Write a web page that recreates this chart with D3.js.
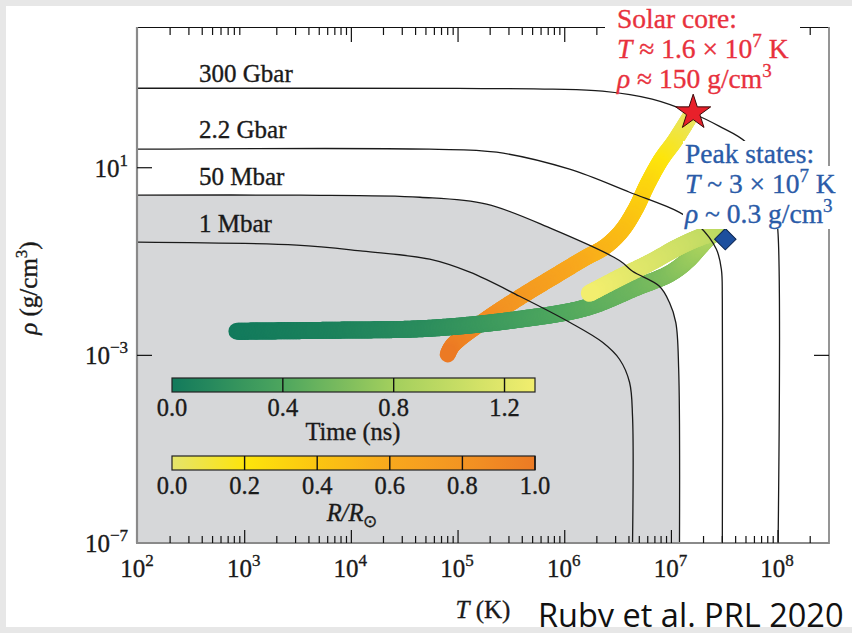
<!DOCTYPE html>
<html lang="en">
<head>
<meta charset="utf-8">
<title>Solar core vs peak states</title>
<script src="https://cdn.jsdelivr.net/npm/d3@7"></script>
<style>
  body { margin: 0; background: #e7e7e7; }
  svg { display: block; }
  text { font-family: "Liberation Serif", "Times New Roman", serif; stroke-width: 0.35px; }
</style>
</head>
<body>
<script>
// Width and height
var w = 852, h = 633;

// ---- data (T in K, rho in g/cm3) ----
var xMajorTicks = [1e3, 1e4, 1e5, 1e6, 1e7, 1e8];
var xLabelTicks = [1e2, 1e3, 1e4, 1e5, 1e6, 1e7, 1e8];
var xLabelExp = ["2", "3", "4", "5", "6", "7", "8"];
var topMajorTicks = [1e4, 1e5, 1e6, 1e7, 1e8];
var yTicks = [1e1, 1e-3, 1e-7];
var yTickExp = ["1", "\u22123", "\u22127"];

var isobarNames = ["300 Gbar", "2.2 Gbar", "50 Mbar", "1 Mbar"];
var isobar300G = [[1e2, 495], [1e5, 490], [7.7e5, 472], [2.26e6, 428], [6.6e6, 289], [1.57e7, 145],
                  [2.8e7, 77], [5.0e7, 35], [7.4e7, 9.3], [9.2e7, 2.1], [1.0e8, 0.38], [1.0e8, 1e-7]];
var isobar2G = [[1e2, 24.8], [5.4e4, 24.8], [2.3e5, 21.4], [1.11e6, 9.3], [4.05e6, 3.0], [1.19e7, 1.12],
                [1.83e7, 0.566], [2.64e7, 0.183], [2.94e7, 0.068], [3.0e7, 0.0157], [3.0e7, 1e-7]];
var isobar50M = [[1e2, 2.6], [3.3e3, 2.6], [4.4e4, 2.35], [1.85e5, 1.67], [7.7e5, 0.489], [3.26e6, 0.105],
                 [4.32e6, 0.062], [7.72e6, 0.0297], [9.57e6, 0.0135], [1.1e7, 5e-3], [1.17e7, 5e-4],
                 [1.19e7, 1e-7]];
var isobar1M = [[1e2, 0.26], [3.08e3, 0.223], [1.28e4, 0.166], [5.42e4, 0.112], [1.29e5, 0.0592],
                [3.78e5, 0.0182], [1.11e6, 5.08e-3], [2.26e6, 1.9e-3], [3.26e6, 8.26e-4], [4.05e6, 2.67e-4],
                [4.32e6, 5.0e-5], [4.32e6, 1e-7]];

// time track: [T, rho, time (ns)]
var timeTrack = [[845, 3.27e-3, 0.0], [6.3e3, 3.43e-3, 0.06], [5.4e4, 3.78e-3, 0.17], [3.8e5, 5.9e-3, 0.33],
                 [1.6e6, 0.0105, 0.45], [4.8e6, 0.0287, 0.55], [9.6e6, 0.055, 0.63], [1.41e7, 0.105, 0.72],
                 [1.9e7, 0.22, 0.8], [2.4e7, 0.37, 0.88], [2.8e7, 0.41, 0.93], [2.08e7, 0.36, 0.98],
                 [1.19e7, 0.21, 1.06], [6.6e6, 0.1, 1.14], [3.3e6, 0.046, 1.22], [1.7e6, 0.021, 1.31]];
// solar model: [T, rho, R/Rsun]
var solarTrack = [[1.48e7, 119, 0.0], [1.07e7, 36.7, 0.1], [8.05e6, 15.2, 0.18], [5.96e6, 4.45, 0.28],
                  [4.6e6, 1.3, 0.36], [3.4e6, 0.443, 0.44], [2.36e6, 0.202, 0.5], [1.6e6, 0.124, 0.55],
                  [7.7e5, 0.046, 0.65], [3.8e5, 0.0173, 0.74], [1.85e5, 5.9e-3, 0.84], [8.9e4, 1.64e-3, 0.95],
                  [8.0e4, 1.05e-3, 1.0]];

var solarCore = [1.6e7, 150];
var peakState = [3e7, 0.3];

var timeTicks = [0, 0.4, 0.8, 1.2];
var timeLabels = ["0.0", "0.4", "0.8", "1.2"];
var radiusTicks = [0, 0.2, 0.4, 0.6, 0.8, 1.0];
var radiusLabels = ["0.0", "0.2", "0.4", "0.6", "0.8", "1.0"];

// ---- scales ----
var x = d3.scaleLog().domain([1e2, 3e8]).range([138, 829]);
var y = d3.scaleLog().domain([1e-7, 1e4]).range([543, 27]);

var timeColor = d3.scaleLinear()
    .domain([0, 0.4, 0.8, 1.31])
    .range(["#127a5c", "#4da65e", "#a3cf5d", "#f2ee6e"]);
var radiusColor = d3.scaleLinear()
    .domain([0, 0.2, 0.4, 0.6, 0.8, 1.0])
    .range(["#e5e56c", "#fde50c", "#fbc511", "#f8a81d", "#f39422", "#ec7a24"]);

var svg = d3.select("body").append("svg")
    .attr("width", w)
    .attr("height", h);

// white panel
svg.append("rect").attr("x", 6).attr("y", 6).attr("width", w - 6).attr("height", 621).attr("fill", "#fff");

var line = d3.line()
    .x(function(d) { return x(d[0]); })
    .y(function(d) { return y(d[1]); })
    .curve(d3.curveCatmullRom.alpha(0.5));

// gray region under 50 Mbar
svg.append("path")
    .attr("d", line(isobar50M) + "L" + x(1e2) + "," + y(1e-7) + "Z")
    .attr("fill", "#d6d7d9");

// thick colored tracks, colour follows the value along the path
function drawTrack(pts, color, width) {
    var tmp = svg.append("path").attr("d", line(pts)).attr("fill", "none");
    var node = tmp.node();
    var total = node.getTotalLength();
    var cum = [0];
    for (var i = 1; i < pts.length; i++) {
        var dx = x(pts[i][0]) - x(pts[i - 1][0]), dy = y(pts[i][1]) - y(pts[i - 1][1]);
        cum.push(cum[i - 1] + Math.sqrt(dx * dx + dy * dy));
    }
    var vAt = d3.scaleLinear()
        .domain(cum.map(function(c) { return c / cum[cum.length - 1] * total; }))
        .range(pts.map(function(d) { return d[2]; }));
    var g = svg.append("g");
    var n = Math.ceil(total / 1.5);
    for (var k = 0; k < n; k++) {
        var a = node.getPointAtLength(k * total / n), b = node.getPointAtLength((k + 1) * total / n);
        g.append("line")
            .attr("x1", a.x).attr("y1", a.y).attr("x2", b.x).attr("y2", b.y)
            .attr("stroke", color(vAt((k + 0.5) * total / n)))
            .attr("stroke-width", width)
            .attr("stroke-linecap", "round");
    }
    tmp.remove();
}
drawTrack(solarTrack, radiusColor, 16);
drawTrack(timeTrack, timeColor, 17);

// isobars
[isobar300G, isobar2G, isobar50M, isobar1M].forEach(function(d) {
    svg.append("path")
        .attr("d", line(d))
        .attr("fill", "none")
        .attr("stroke", "#1a1a1a")
        .attr("stroke-width", 1.3);
});

// frame
svg.append("line").attr("x1", 137).attr("x2", 829).attr("y1", 27.5).attr("y2", 27.5)
    .attr("stroke", "#111").attr("stroke-width", 1.2);
svg.append("line").attr("x1", 137).attr("x2", 137).attr("y1", 27).attr("y2", 543)
    .attr("stroke", "#8a8a8a").attr("stroke-width", 2.2);
svg.append("line").attr("x1", 136).attr("x2", 829).attr("y1", 543).attr("y2", 543)
    .attr("stroke", "#8a8a8a").attr("stroke-width", 2.2);
svg.append("line").attr("x1", 829).attr("x2", 829).attr("y1", 27).attr("y2", 544)
    .attr("stroke", "#8a8a8a").attr("stroke-width", 1.8);

// x ticks (minor every decade, inward)
var minor = [];
for (var e = 2; e <= 8; e++) {
    for (var m = 2; m <= 9; m++) {
        if (m * Math.pow(10, e) < 2.9e8) minor.push(m * Math.pow(10, e));
    }
}
var ticks = svg.append("g").attr("stroke", "#111").attr("stroke-width", 1.2);
minor.forEach(function(v) {
    ticks.append("line").attr("x1", x(v)).attr("x2", x(v)).attr("y1", 543).attr("y2", 536);
    ticks.append("line").attr("x1", x(v)).attr("x2", x(v)).attr("y1", 28).attr("y2", 35);
});
xMajorTicks.forEach(function(v) {
    ticks.append("line").attr("x1", x(v)).attr("x2", x(v)).attr("y1", 543).attr("y2", 530);
});
topMajorTicks.forEach(function(v) {
    ticks.append("line").attr("x1", x(v)).attr("x2", x(v)).attr("y1", 28).attr("y2", 42);
});
yTicks.slice(0, 2).forEach(function(v) {
    ticks.append("line").attr("x1", 137).attr("x2", 152).attr("y1", y(v)).attr("y2", y(v));
    ticks.append("line").attr("x1", 829).attr("x2", 814).attr("y1", y(v)).attr("y2", y(v));
});

// x tick labels
xLabelTicks.forEach(function(v, i) {
    var t = svg.append("text").attr("x", x(v) - 1).attr("y", 577)
        .attr("text-anchor", "middle").attr("font-size", 25)
        .attr("fill", "#1a1a1a").attr("stroke", "#1a1a1a");
    t.append("tspan").text("10");
    t.append("tspan").attr("dy", -11).attr("font-size", 17).text(xLabelExp[i]);
});
// y tick labels
yTicks.forEach(function(v, i) {
    var t = svg.append("text").attr("x", 128).attr("y", y(v) + 9)
        .attr("text-anchor", "end").attr("font-size", 25)
        .attr("fill", "#1a1a1a").attr("stroke", "#1a1a1a");
    t.append("tspan").text("10");
    t.append("tspan").attr("dy", -11).attr("font-size", 17).text(yTickExp[i]);
});

// axis titles
var xt = svg.append("text").attr("x", 483).attr("y", 618).attr("text-anchor", "middle")
    .attr("font-size", 25).attr("fill", "#1a1a1a").attr("stroke", "#1a1a1a");
xt.append("tspan").attr("font-style", "italic").text("T");
xt.append("tspan").text(" (K)");
var yt = svg.append("text").attr("transform", "translate(37,288) rotate(-90)")
    .attr("text-anchor", "middle").attr("font-size", 25).attr("fill", "#1a1a1a").attr("stroke", "#1a1a1a");
yt.append("tspan").attr("font-style", "italic").text("\u03c1");
yt.append("tspan").text(" (g/cm");
yt.append("tspan").attr("dy", -10).attr("font-size", 17).text("3");
yt.append("tspan").attr("dy", 10).text(")");

// isobar labels
var labelY = [82, 138, 185, 232];
isobarNames.forEach(function(s, i) {
    svg.append("text").attr("x", 199).attr("y", labelY[i]).attr("font-size", 25)
        .attr("fill", "#1a1a1a").attr("stroke", "#1a1a1a").text(s);
});

// colour bars
function colorBar(id, color, domain, ticksV, labels, top) {
    var bx = d3.scaleLinear().domain(domain).range([172, 535]);
    var grad = svg.append("defs").append("linearGradient").attr("id", id);
    d3.range(0, 1.0001, 0.05).forEach(function(f) {
        grad.append("stop").attr("offset", f)
            .attr("stop-color", color(domain[0] + f * (domain[1] - domain[0])));
    });
    svg.append("rect").attr("x", 172).attr("y", top).attr("width", 363).attr("height", 14)
        .attr("fill", "url(#" + id + ")").attr("stroke", "#222").attr("stroke-width", 1.2);
    ticksV.forEach(function(v, i) {
        if (v > domain[0]) {
            svg.append("line").attr("x1", bx(v)).attr("x2", bx(v)).attr("y1", top).attr("y2", top + 14)
                .attr("stroke", "#111").attr("stroke-width", 1.4);
        }
        svg.append("text").attr("x", bx(v)).attr("y", top + 38).attr("text-anchor", "middle")
            .attr("font-size", 24.5).attr("fill", "#1a1a1a").attr("stroke", "#1a1a1a").text(labels[i]);
    });
}
colorBar("tgrad", timeColor, [0, 1.31], timeTicks, timeLabels, 378);
svg.append("text").attr("x", 353).attr("y", 440).attr("text-anchor", "middle")
    .attr("font-size", 24.5).attr("fill", "#1a1a1a").attr("stroke", "#1a1a1a").text("Time (ns)");
colorBar("rgrad", radiusColor, [0, 1.0], radiusTicks, radiusLabels, 456);
var rt = svg.append("text").attr("x", 352).attr("y", 521).attr("text-anchor", "middle")
    .attr("font-size", 24.5).attr("fill", "#1a1a1a").attr("stroke", "#1a1a1a");
rt.append("tspan").attr("font-style", "italic").text("R/R");
rt.append("tspan").attr("dy", 6).attr("font-size", 17).text("\u2299");

// markers
svg.append("path")
    .attr("d", d3.symbol().type(d3.symbolStar).size(380))
    .attr("transform", "translate(" + x(solarCore[0]) + "," + y(solarCore[1]) + ")")
    .attr("fill", "#e8202a").attr("stroke", "#3a0a0a").attr("stroke-width", 1);
svg.append("path")
    .attr("d", d3.symbol().type(d3.symbolSquare).size(230))
    .attr("transform", "translate(" + (x(peakState[0]) + 3) + "," + y(peakState[1]) + ") rotate(45)")
    .attr("fill", "#1d4f9e").attr("stroke", "#0d2550").attr("stroke-width", 1);

// annotation boxes (white) and text
svg.append("rect").attr("x", 605).attr("y", 6).attr("width", 195).attr("height", 84).attr("fill", "#fff");
svg.append("rect").attr("x", 683).attr("y", 141).attr("width", 140).attr("height", 25).attr("fill", "#fff");
svg.append("rect").attr("x", 683).attr("y", 166).attr("width", 165).attr("height", 63).attr("fill", "#fff");

function annot(x0, y0, color, lines) {
    lines.forEach(function(parts, i) {
        var t = svg.append("text").attr("x", x0).attr("y", y0 + i * 30)
            .attr("font-size", 27.5).attr("fill", color).attr("stroke", color);
        parts.forEach(function(p) {
            var s = t.append("tspan").text(p[0]);
            if (p[1] === "i") s.attr("font-style", "italic");
            if (p[1] === "sup") s.attr("dy", -11).attr("font-size", 19);
            if (p[1] === "down") s.attr("dy", 11);
        });
    });
}
annot(617, 28, "#e8313d", [
    [["Solar core:"]],
    [["T", "i"], [" \u2248 1.6 \u00d7 10"], ["7", "sup"], [" K", "down"]],
    [["\u03c1", "i"], [" \u2248 150 g/cm"], ["3", "sup"]]
]);
annot(685, 163, "#2a5ba8", [
    [["Peak states:"]],
    [["T", "i"], [" ~ 3 \u00d7 10"], ["7", "sup"], [" K", "down"]],
    [["\u03c1", "i"], [" ~ 0.3 g/cm"], ["3", "sup"]]
]);

// citation
svg.append("text").attr("x", 538).attr("y", 627).attr("font-size", 32.5)
    .style("font-family", "'Open Sans', sans-serif").style("stroke-width", 0).attr("fill", "#111")
    .text("Ruby et al. PRL 2020");
svg.append("rect").attr("x", 0).attr("y", 627).attr("width", w).attr("height", 6).attr("fill", "#e7e7e7");
</script>
</body>
</html>
